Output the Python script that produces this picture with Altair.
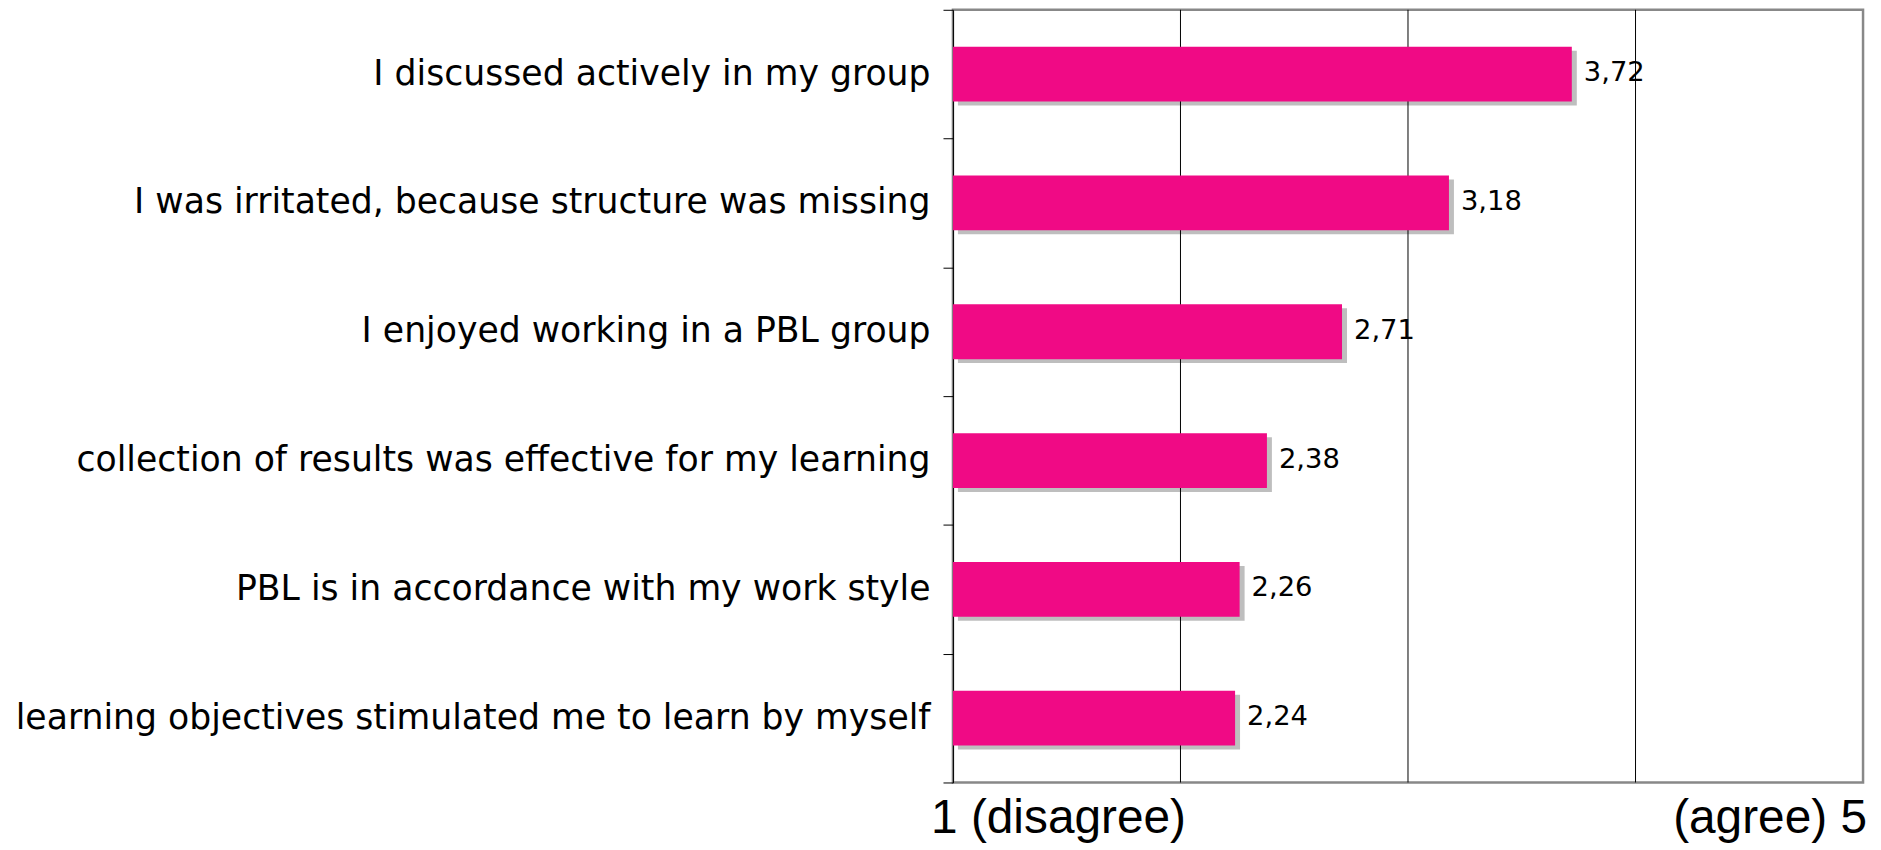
import altair as alt
import pandas as pd

statements = [
    "I discussed actively in my group",
    "I was irritated, because structure was missing",
    "I enjoyed working in a PBL group",
    "collection of results was effective for my learning",
    "PBL is in accordance with my work style",
    "learning objectives stimulated me to learn by myself",
]
means = [3.72, 3.18, 2.71, 2.38, 2.26, 2.24]
value_labels = ["3,72", "3,18", "2,71", "2,38", "2,26", "2,24"]
grid_values = [2, 3, 4]
left_end = [1]
left_label = ["1 (disagree)"]
right_end = [5]
right_label = ["(agree) 5"]

W, H = 914, 776
BAR = "#F00A85"

df = pd.DataFrame({"statement": statements, "mean": means, "label": value_labels, "base": [1] * 6})
grid_df = pd.DataFrame({"g": grid_values})
left_df = pd.DataFrame({"v": left_end, "t": left_label})
right_df = pd.DataFrame({"v": right_end, "t": right_label})

xscale = alt.Scale(domain=[1, 5], nice=False, zero=False)
yscale = alt.Scale(paddingInner=0, paddingOuter=0)

yenc = alt.Y(
    "statement:N", sort=statements, scale=yscale, title=None,
    axis=alt.Axis(
        tickBand="extent", tickSize=10, tickColor="black", domainColor="black",
        domainWidth=1, labelFont="DejaVu Sans", labelFontSize=34.8, labelColor="black",
        labelPadding=13, labelLimit=1000, grid=False,
    ),
)

shadow = alt.Chart(df).mark_bar(
    color="#BEBEBE", size=55, xOffset=5, x2Offset=5, yOffset=4, y2Offset=4
).encode(
    x=alt.X("base:Q", scale=xscale, axis=None), x2="mean:Q", y=yenc
)

grid = alt.Chart(grid_df).mark_rule(color="black", strokeWidth=1).encode(
    x=alt.X("g:Q", scale=xscale, axis=None)
)

bars = alt.Chart(df).mark_bar(color=BAR, size=55).encode(
    x=alt.X("base:Q", scale=xscale, axis=None), x2="mean:Q", y=yenc
)

vals = alt.Chart(df).mark_text(
    align="left", baseline="middle", dx=12, dy=-1, font="DejaVu Sans", fontSize=27.5, color="black"
).encode(x=alt.X("mean:Q", scale=xscale), y=alt.Y("statement:N", sort=statements), text="label:N")

left_txt = alt.Chart(left_df).mark_text(
    baseline="alphabetic", align="left", dx=-22, font="Liberation Sans", fontSize=48, color="black"
).encode(x=alt.X("v:Q", scale=xscale), y=alt.value(H + 51), text="t:N")

right_txt = alt.Chart(right_df).mark_text(
    baseline="alphabetic", align="right", dx=4, font="Liberation Sans", fontSize=48, color="black"
).encode(x=alt.X("v:Q", scale=xscale), y=alt.value(H + 51), text="t:N")

chart = alt.layer(shadow, grid, bars, vals, left_txt, right_txt).properties(
    width=W, height=H,
    autosize=alt.AutoSizeParams(type="none"),
    padding={"left": 949, "top": 0, "right": 10, "bottom": 66},
).configure_view(stroke="#888888", strokeWidth=2.5)

chart.save("out.html", embed_options={"renderer": "svg", "actions": False})
